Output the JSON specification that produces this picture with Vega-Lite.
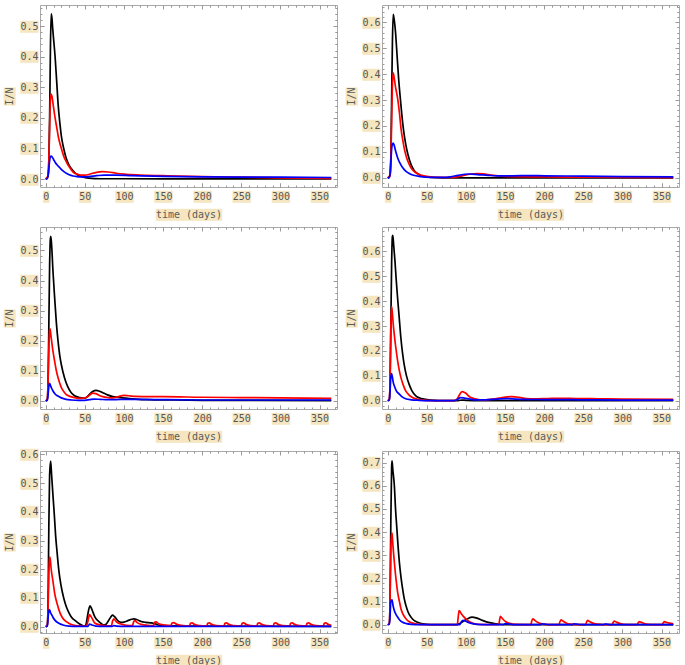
{
"$schema": "https://vega.github.io/schema/vega-lite/v6.json",
"background": "white",
"padding": {"left": 4, "top": 4, "right": 0, "bottom": 0},
"config": {
  "view": {"stroke": "#a8a8a8", "strokeWidth": 1},
  "line": {"strokeWidth": 1.7, "interpolate": "monotone"},
  "axis": {"domain": false, "grid": false, "gridColor": "#9a9a9a", "gridOpacity": 1, "gridWidth": 1, "labelFont": "DejaVu Sans Mono", "labelFontSize": 10, "titleFont": "DejaVu Sans Mono", "titleFontSize": 10, "titleFontWeight": "normal", "tickColor": "#9a9a9a", "tickWidth": 1, "labelFlush": false, "labelOverlap": false, "labelColor": "#555555", "titleColor": "#5a5a5a"}
},
"datasets": {
"p1": [
{"t":0,"v":0,"s":"k"},{"t":3,"v":0.01,"s":"k"},{"t":4,"v":0.06,"s":"k"},{"t":5,"v":0.2,"s":"k"},{"t":6,"v":0.42,"s":"k"},{"t":7,"v":0.54,"s":"k"},{"t":8,"v":0.525,"s":"k"},{"t":9,"v":0.49,"s":"k"},{"t":10,"v":0.46,"s":"k"},{"t":12,"v":0.4,"s":"k"},{"t":14,"v":0.32,"s":"k"},{"t":16,"v":0.24,"s":"k"},{"t":18,"v":0.185,"s":"k"},{"t":20,"v":0.14,"s":"k"},{"t":23,"v":0.1,"s":"k"},{"t":26,"v":0.07,"s":"k"},{"t":30,"v":0.045,"s":"k"},{"t":35,"v":0.027,"s":"k"},{"t":40,"v":0.015,"s":"k"},{"t":47,"v":0.007,"s":"k"},{"t":55,"v":0.003,"s":"k"},{"t":70,"v":0.001,"s":"k"},{"t":100,"v":0.001,"s":"k"},{"t":200,"v":0.0005,"s":"k"},{"t":365,"v":0.0005,"s":"k"},
{"t":0,"v":0,"s":"r"},{"t":3,"v":0.01,"s":"r"},{"t":4,"v":0.06,"s":"r"},{"t":5,"v":0.17,"s":"r"},{"t":6,"v":0.26,"s":"r"},{"t":7,"v":0.278,"s":"r"},{"t":8,"v":0.27,"s":"r"},{"t":10,"v":0.235,"s":"r"},{"t":12,"v":0.2,"s":"r"},{"t":14,"v":0.17,"s":"r"},{"t":16,"v":0.14,"s":"r"},{"t":18,"v":0.118,"s":"r"},{"t":20,"v":0.1,"s":"r"},{"t":23,"v":0.075,"s":"r"},{"t":26,"v":0.058,"s":"r"},{"t":30,"v":0.04,"s":"r"},{"t":35,"v":0.023,"s":"r"},{"t":40,"v":0.016,"s":"r"},{"t":45,"v":0.013,"s":"r"},{"t":50,"v":0.013,"s":"r"},{"t":55,"v":0.015,"s":"r"},{"t":60,"v":0.019,"s":"r"},{"t":65,"v":0.022,"s":"r"},{"t":72,"v":0.024,"s":"r"},{"t":80,"v":0.023,"s":"r"},{"t":90,"v":0.019,"s":"r"},{"t":100,"v":0.016,"s":"r"},{"t":120,"v":0.013,"s":"r"},{"t":150,"v":0.011,"s":"r"},{"t":200,"v":0.008,"s":"r"},{"t":250,"v":0.006,"s":"r"},{"t":300,"v":0.004,"s":"r"},{"t":365,"v":0.002,"s":"r"},
{"t":0,"v":0,"s":"b"},{"t":2,"v":0.001,"s":"b"},{"t":3,"v":0.01,"s":"b"},{"t":4,"v":0.035,"s":"b"},{"t":5,"v":0.06,"s":"b"},{"t":6,"v":0.073,"s":"b"},{"t":7,"v":0.075,"s":"b"},{"t":8,"v":0.073,"s":"b"},{"t":10,"v":0.064,"s":"b"},{"t":12,"v":0.055,"s":"b"},{"t":15,"v":0.045,"s":"b"},{"t":18,"v":0.037,"s":"b"},{"t":21,"v":0.029,"s":"b"},{"t":25,"v":0.021,"s":"b"},{"t":30,"v":0.014,"s":"b"},{"t":35,"v":0.01,"s":"b"},{"t":40,"v":0.008,"s":"b"},{"t":45,"v":0.007,"s":"b"},{"t":55,"v":0.008,"s":"b"},{"t":65,"v":0.011,"s":"b"},{"t":75,"v":0.013,"s":"b"},{"t":90,"v":0.013,"s":"b"},{"t":110,"v":0.011,"s":"b"},{"t":150,"v":0.009,"s":"b"},{"t":200,"v":0.007,"s":"b"},{"t":250,"v":0.006,"s":"b"},{"t":300,"v":0.006,"s":"b"},{"t":365,"v":0.005,"s":"b"}
],
"p2": [
{"t":0,"v":0,"s":"k"},{"t":3,"v":0.01,"s":"k"},{"t":4,"v":0.08,"s":"k"},{"t":5,"v":0.3,"s":"k"},{"t":6,"v":0.52,"s":"k"},{"t":7,"v":0.63,"s":"k"},{"t":8,"v":0.615,"s":"k"},{"t":10,"v":0.56,"s":"k"},{"t":12,"v":0.47,"s":"k"},{"t":14,"v":0.38,"s":"k"},{"t":16,"v":0.31,"s":"k"},{"t":18,"v":0.245,"s":"k"},{"t":20,"v":0.19,"s":"k"},{"t":23,"v":0.13,"s":"k"},{"t":26,"v":0.088,"s":"k"},{"t":30,"v":0.05,"s":"k"},{"t":34,"v":0.028,"s":"k"},{"t":38,"v":0.017,"s":"k"},{"t":45,"v":0.006,"s":"k"},{"t":55,"v":0.002,"s":"k"},{"t":70,"v":0.0005,"s":"k"},{"t":365,"v":0.0003,"s":"k"},
{"t":0,"v":0,"s":"r"},{"t":3,"v":0.01,"s":"r"},{"t":4,"v":0.07,"s":"r"},{"t":5,"v":0.22,"s":"r"},{"t":6,"v":0.36,"s":"r"},{"t":7,"v":0.405,"s":"r"},{"t":8,"v":0.39,"s":"r"},{"t":10,"v":0.35,"s":"r"},{"t":13,"v":0.3,"s":"r"},{"t":15,"v":0.25,"s":"r"},{"t":17,"v":0.19,"s":"r"},{"t":19,"v":0.15,"s":"r"},{"t":21,"v":0.116,"s":"r"},{"t":24,"v":0.08,"s":"r"},{"t":27.5,"v":0.052,"s":"r"},{"t":31,"v":0.033,"s":"r"},{"t":36,"v":0.02,"s":"r"},{"t":41,"v":0.012,"s":"r"},{"t":46,"v":0.008,"s":"r"},{"t":55,"v":0.004,"s":"r"},{"t":65,"v":0.002,"s":"r"},{"t":80,"v":0.002,"s":"r"},{"t":88,"v":0.004,"s":"r"},{"t":95,"v":0.008,"s":"r"},{"t":105,"v":0.014,"s":"r"},{"t":114,"v":0.017,"s":"r"},{"t":122,"v":0.016,"s":"r"},{"t":132,"v":0.011,"s":"r"},{"t":145,"v":0.007,"s":"r"},{"t":160,"v":0.005,"s":"r"},{"t":200,"v":0.004,"s":"r"},{"t":250,"v":0.003,"s":"r"},{"t":300,"v":0.002,"s":"r"},{"t":365,"v":0.001,"s":"r"},
{"t":0,"v":0,"s":"b"},{"t":2,"v":0.001,"s":"b"},{"t":3,"v":0.015,"s":"b"},{"t":4,"v":0.06,"s":"b"},{"t":5,"v":0.11,"s":"b"},{"t":6,"v":0.13,"s":"b"},{"t":7,"v":0.134,"s":"b"},{"t":8,"v":0.128,"s":"b"},{"t":10,"v":0.105,"s":"b"},{"t":13,"v":0.075,"s":"b"},{"t":16,"v":0.055,"s":"b"},{"t":19,"v":0.04,"s":"b"},{"t":23,"v":0.026,"s":"b"},{"t":27.5,"v":0.017,"s":"b"},{"t":33,"v":0.01,"s":"b"},{"t":42,"v":0.005,"s":"b"},{"t":55,"v":0.002,"s":"b"},{"t":70,"v":0.002,"s":"b"},{"t":80,"v":0.004,"s":"b"},{"t":90,"v":0.01,"s":"b"},{"t":103,"v":0.015,"s":"b"},{"t":115,"v":0.013,"s":"b"},{"t":128,"v":0.01,"s":"b"},{"t":140,"v":0.008,"s":"b"},{"t":160,"v":0.008,"s":"b"},{"t":180,"v":0.009,"s":"b"},{"t":200,"v":0.008,"s":"b"},{"t":250,"v":0.007,"s":"b"},{"t":300,"v":0.005,"s":"b"},{"t":365,"v":0.004,"s":"b"}
],
"p3": [
{"t":0,"v":0,"s":"k"},{"t":2,"v":0.005,"s":"k"},{"t":3,"v":0.06,"s":"k"},{"t":4,"v":0.25,"s":"k"},{"t":5,"v":0.45,"s":"k"},{"t":6,"v":0.54,"s":"k"},{"t":6.5,"v":0.547,"s":"k"},{"t":7.5,"v":0.52,"s":"k"},{"t":9.3,"v":0.43,"s":"k"},{"t":11.5,"v":0.34,"s":"k"},{"t":13.6,"v":0.26,"s":"k"},{"t":15.7,"v":0.2,"s":"k"},{"t":17.8,"v":0.154,"s":"k"},{"t":20,"v":0.12,"s":"k"},{"t":24,"v":0.077,"s":"k"},{"t":28,"v":0.048,"s":"k"},{"t":32.6,"v":0.027,"s":"k"},{"t":37,"v":0.017,"s":"k"},{"t":43,"v":0.011,"s":"k"},{"t":47,"v":0.009,"s":"k"},{"t":51,"v":0.01,"s":"k"},{"t":56,"v":0.022,"s":"k"},{"t":60,"v":0.031,"s":"k"},{"t":64.4,"v":0.035,"s":"k"},{"t":68,"v":0.033,"s":"k"},{"t":73,"v":0.027,"s":"k"},{"t":79,"v":0.02,"s":"k"},{"t":85.6,"v":0.014,"s":"k"},{"t":95,"v":0.011,"s":"k"},{"t":102.5,"v":0.009,"s":"k"},{"t":115,"v":0.006,"s":"k"},{"t":130,"v":0.004,"s":"k"},{"t":160,"v":0.003,"s":"k"},{"t":200,"v":0.002,"s":"k"},{"t":365,"v":0.001,"s":"k"},
{"t":0,"v":0,"s":"r"},{"t":2,"v":0.005,"s":"r"},{"t":3,"v":0.06,"s":"r"},{"t":4,"v":0.17,"s":"r"},{"t":5,"v":0.235,"s":"r"},{"t":5.5,"v":0.24,"s":"r"},{"t":7,"v":0.21,"s":"r"},{"t":9.3,"v":0.165,"s":"r"},{"t":11.5,"v":0.13,"s":"r"},{"t":13.6,"v":0.1,"s":"r"},{"t":16,"v":0.075,"s":"r"},{"t":20,"v":0.044,"s":"r"},{"t":23,"v":0.031,"s":"r"},{"t":26,"v":0.022,"s":"r"},{"t":31,"v":0.015,"s":"r"},{"t":37,"v":0.011,"s":"r"},{"t":43,"v":0.008,"s":"r"},{"t":48,"v":0.009,"s":"r"},{"t":53,"v":0.013,"s":"r"},{"t":57,"v":0.021,"s":"r"},{"t":60,"v":0.026,"s":"r"},{"t":64,"v":0.024,"s":"r"},{"t":68,"v":0.019,"s":"r"},{"t":73,"v":0.014,"s":"r"},{"t":80,"v":0.011,"s":"r"},{"t":86,"v":0.01,"s":"r"},{"t":93,"v":0.014,"s":"r"},{"t":100,"v":0.018,"s":"r"},{"t":106,"v":0.017,"s":"r"},{"t":115,"v":0.015,"s":"r"},{"t":130,"v":0.014,"s":"r"},{"t":150,"v":0.014,"s":"r"},{"t":200,"v":0.012,"s":"r"},{"t":250,"v":0.011,"s":"r"},{"t":300,"v":0.01,"s":"r"},{"t":365,"v":0.008,"s":"r"},
{"t":0,"v":0,"s":"b"},{"t":2,"v":0.002,"s":"b"},{"t":3,"v":0.02,"s":"b"},{"t":4,"v":0.048,"s":"b"},{"t":5,"v":0.058,"s":"b"},{"t":6,"v":0.052,"s":"b"},{"t":7.5,"v":0.042,"s":"b"},{"t":9.3,"v":0.033,"s":"b"},{"t":12,"v":0.023,"s":"b"},{"t":15.7,"v":0.016,"s":"b"},{"t":20,"v":0.01,"s":"b"},{"t":26,"v":0.005,"s":"b"},{"t":33,"v":0.003,"s":"b"},{"t":42,"v":0.002,"s":"b"},{"t":50,"v":0.002,"s":"b"},{"t":56,"v":0.004,"s":"b"},{"t":62,"v":0.006,"s":"b"},{"t":70,"v":0.005,"s":"b"},{"t":80,"v":0.004,"s":"b"},{"t":90,"v":0.004,"s":"b"},{"t":100,"v":0.005,"s":"b"},{"t":120,"v":0.005,"s":"b"},{"t":150,"v":0.004,"s":"b"},{"t":200,"v":0.003,"s":"b"},{"t":250,"v":0.003,"s":"b"},{"t":300,"v":0.003,"s":"b"},{"t":365,"v":0.003,"s":"b"}
],
"p4": [
{"t":0,"v":0,"s":"k"},{"t":2,"v":0.005,"s":"k"},{"t":3,"v":0.07,"s":"k"},{"t":4,"v":0.3,"s":"k"},{"t":5,"v":0.55,"s":"k"},{"t":6,"v":0.66,"s":"k"},{"t":6.5,"v":0.664,"s":"k"},{"t":7.5,"v":0.63,"s":"k"},{"t":9.3,"v":0.56,"s":"k"},{"t":11,"v":0.48,"s":"k"},{"t":12.7,"v":0.41,"s":"k"},{"t":14.8,"v":0.33,"s":"k"},{"t":16.9,"v":0.25,"s":"k"},{"t":19,"v":0.19,"s":"k"},{"t":21,"v":0.146,"s":"k"},{"t":24,"v":0.1,"s":"k"},{"t":27.4,"v":0.066,"s":"k"},{"t":31,"v":0.04,"s":"k"},{"t":35.9,"v":0.02,"s":"k"},{"t":41,"v":0.011,"s":"k"},{"t":46.4,"v":0.007,"s":"k"},{"t":55,"v":0.003,"s":"k"},{"t":65,"v":0.001,"s":"k"},{"t":90,"v":0.001,"s":"k"},{"t":95,"v":0.003,"s":"k"},{"t":100,"v":0.002,"s":"k"},{"t":120,"v":0.001,"s":"k"},{"t":365,"v":0.0005,"s":"k"},
{"t":0,"v":0,"s":"r"},{"t":2,"v":0.005,"s":"r"},{"t":3,"v":0.08,"s":"r"},{"t":4,"v":0.3,"s":"r"},{"t":5,"v":0.378,"s":"r"},{"t":6,"v":0.35,"s":"r"},{"t":7,"v":0.31,"s":"r"},{"t":8.4,"v":0.266,"s":"r"},{"t":10.5,"v":0.21,"s":"r"},{"t":12.7,"v":0.16,"s":"r"},{"t":14.8,"v":0.122,"s":"r"},{"t":16.9,"v":0.093,"s":"r"},{"t":20,"v":0.062,"s":"r"},{"t":23,"v":0.04,"s":"r"},{"t":27,"v":0.024,"s":"r"},{"t":31.6,"v":0.013,"s":"r"},{"t":38,"v":0.006,"s":"r"},{"t":45,"v":0.003,"s":"r"},{"t":55,"v":0.001,"s":"r"},{"t":85,"v":0.001,"s":"r"},{"t":88,"v":0.005,"s":"r"},{"t":91,"v":0.02,"s":"r"},{"t":95,"v":0.037,"s":"r"},{"t":99,"v":0.032,"s":"r"},{"t":105.5,"v":0.014,"s":"r"},{"t":112,"v":0.008,"s":"r"},{"t":118,"v":0.004,"s":"r"},{"t":125,"v":0.004,"s":"r"},{"t":135,"v":0.007,"s":"r"},{"t":145,"v":0.012,"s":"r"},{"t":158,"v":0.017,"s":"r"},{"t":168,"v":0.014,"s":"r"},{"t":177,"v":0.009,"s":"r"},{"t":190,"v":0.008,"s":"r"},{"t":205,"v":0.009,"s":"r"},{"t":220,"v":0.01,"s":"r"},{"t":240,"v":0.009,"s":"r"},{"t":270,"v":0.008,"s":"r"},{"t":300,"v":0.007,"s":"r"},{"t":365,"v":0.006,"s":"r"},
{"t":0,"v":0,"s":"b"},{"t":2,"v":0.002,"s":"b"},{"t":3,"v":0.04,"s":"b"},{"t":4,"v":0.095,"s":"b"},{"t":5,"v":0.109,"s":"b"},{"t":6,"v":0.095,"s":"b"},{"t":7,"v":0.075,"s":"b"},{"t":8.4,"v":0.06,"s":"b"},{"t":11,"v":0.04,"s":"b"},{"t":14.8,"v":0.027,"s":"b"},{"t":18,"v":0.017,"s":"b"},{"t":23,"v":0.008,"s":"b"},{"t":30,"v":0.004,"s":"b"},{"t":40,"v":0.002,"s":"b"},{"t":50,"v":0.001,"s":"b"},{"t":85,"v":0.001,"s":"b"},{"t":89,"v":0.005,"s":"b"},{"t":93,"v":0.013,"s":"b"},{"t":98,"v":0.011,"s":"b"},{"t":105,"v":0.007,"s":"b"},{"t":112,"v":0.004,"s":"b"},{"t":125,"v":0.004,"s":"b"},{"t":140,"v":0.007,"s":"b"},{"t":152,"v":0.009,"s":"b"},{"t":165,"v":0.007,"s":"b"},{"t":200,"v":0.005,"s":"b"},{"t":250,"v":0.004,"s":"b"},{"t":300,"v":0.003,"s":"b"},{"t":365,"v":0.003,"s":"b"}
],
"p5": [
{"t":0,"v":0,"s":"k"},{"t":2,"v":0.005,"s":"k"},{"t":3,"v":0.08,"s":"k"},{"t":4,"v":0.35,"s":"k"},{"t":5,"v":0.53,"s":"k"},{"t":6.3,"v":0.577,"s":"k"},{"t":7.5,"v":0.53,"s":"k"},{"t":9.2,"v":0.46,"s":"k"},{"t":11,"v":0.39,"s":"k"},{"t":12.6,"v":0.32,"s":"k"},{"t":14.5,"v":0.26,"s":"k"},{"t":16.8,"v":0.195,"s":"k"},{"t":19.5,"v":0.145,"s":"k"},{"t":23,"v":0.1,"s":"k"},{"t":26,"v":0.072,"s":"k"},{"t":29.4,"v":0.05,"s":"k"},{"t":33,"v":0.033,"s":"k"},{"t":37.8,"v":0.021,"s":"k"},{"t":43,"v":0.01,"s":"k"},{"t":48.3,"v":0.003,"s":"k"},{"t":51,"v":0.004,"s":"k"},{"t":53,"v":0.03,"s":"k"},{"t":55,"v":0.06,"s":"k"},{"t":56.7,"v":0.073,"s":"k"},{"t":59,"v":0.06,"s":"k"},{"t":63,"v":0.033,"s":"k"},{"t":67,"v":0.02,"s":"k"},{"t":71,"v":0.011,"s":"k"},{"t":73.5,"v":0.006,"s":"k"},{"t":77,"v":0.008,"s":"k"},{"t":80,"v":0.02,"s":"k"},{"t":83,"v":0.033,"s":"k"},{"t":85.3,"v":0.04,"s":"k"},{"t":88,"v":0.035,"s":"k"},{"t":92.4,"v":0.02,"s":"k"},{"t":96.6,"v":0.015,"s":"k"},{"t":100,"v":0.016,"s":"k"},{"t":105,"v":0.021,"s":"k"},{"t":110,"v":0.026,"s":"k"},{"t":112.6,"v":0.027,"s":"k"},{"t":116,"v":0.025,"s":"k"},{"t":122,"v":0.018,"s":"k"},{"t":128,"v":0.015,"s":"k"},{"t":135,"v":0.013,"s":"k"},{"t":140,"v":0.01,"s":"k"},{"t":145,"v":0.005,"s":"k"},{"t":150,"v":0.004,"s":"k"},{"t":200,"v":0.002,"s":"k"},{"t":365,"v":0.001,"s":"k"},
{"t":0,"v":0,"s":"r"},{"t":2,"v":0.005,"s":"r"},{"t":3,"v":0.06,"s":"r"},{"t":4,"v":0.18,"s":"r"},{"t":5,"v":0.24,"s":"r"},{"t":5.5,"v":0.242,"s":"r"},{"t":7,"v":0.2,"s":"r"},{"t":9.2,"v":0.16,"s":"r"},{"t":11.5,"v":0.115,"s":"r"},{"t":14.7,"v":0.079,"s":"r"},{"t":18,"v":0.05,"s":"r"},{"t":21,"v":0.033,"s":"r"},{"t":25,"v":0.02,"s":"r"},{"t":29.4,"v":0.012,"s":"r"},{"t":35,"v":0.006,"s":"r"},{"t":42,"v":0.003,"s":"r"},{"t":52,"v":0.002,"s":"r"},{"t":54,"v":0.02,"s":"r"},{"t":56,"v":0.042,"s":"r"},{"t":58,"v":0.035,"s":"r"},{"t":61,"v":0.02,"s":"r"},{"t":63,"v":0.012,"s":"r"},{"t":68,"v":0.007,"s":"r"},{"t":75,"v":0.004,"s":"r"},{"t":84,"v":0.003,"s":"r"},{"t":85.5,"v":0.02,"s":"r"},{"t":87,"v":0.027,"s":"r"},{"t":90,"v":0.018,"s":"r"},{"t":95,"v":0.01,"s":"r"},{"t":103,"v":0.005,"s":"r"},{"t":111,"v":0.004,"s":"r"},{"t":112.5,"v":0.018,"s":"r"},{"t":114,"v":0.021,"s":"r"},{"t":117,"v":0.014,"s":"r"},{"t":122,"v":0.008,"s":"r"},{"t":130,"v":0.005,"s":"r"},{"t":138,"v":0.004,"s":"r"},{"t":139,"v":0.015,"s":"r"},{"t":141,"v":0.017,"s":"r"},{"t":144,"v":0.011,"s":"r"},{"t":150,"v":0.006,"s":"r"},{"t":160,"v":0.004,"s":"r"},{"t":161.5,"v":0.013,"s":"r"},{"t":163.5,"v":0.014,"s":"r"},{"t":167,"v":0.009,"s":"r"},{"t":173,"v":0.005,"s":"r"},{"t":184,"v":0.003,"s":"r"},{"t":185,"v":0.012,"s":"r"},{"t":187,"v":0.013,"s":"r"},{"t":190,"v":0.008,"s":"r"},{"t":196,"v":0.004,"s":"r"},{"t":206,"v":0.003,"s":"r"},{"t":207,"v":0.012,"s":"r"},{"t":209,"v":0.013,"s":"r"},{"t":212,"v":0.008,"s":"r"},{"t":218,"v":0.004,"s":"r"},{"t":228,"v":0.003,"s":"r"},{"t":229,"v":0.012,"s":"r"},{"t":231,"v":0.013,"s":"r"},{"t":234,"v":0.008,"s":"r"},{"t":240,"v":0.004,"s":"r"},{"t":250,"v":0.003,"s":"r"},{"t":251,"v":0.012,"s":"r"},{"t":253,"v":0.013,"s":"r"},{"t":256,"v":0.008,"s":"r"},{"t":262,"v":0.004,"s":"r"},{"t":270,"v":0.003,"s":"r"},{"t":271,"v":0.012,"s":"r"},{"t":273,"v":0.013,"s":"r"},{"t":276,"v":0.008,"s":"r"},{"t":282,"v":0.004,"s":"r"},{"t":291,"v":0.003,"s":"r"},{"t":292,"v":0.012,"s":"r"},{"t":294,"v":0.013,"s":"r"},{"t":297,"v":0.008,"s":"r"},{"t":303,"v":0.004,"s":"r"},{"t":312,"v":0.003,"s":"r"},{"t":313,"v":0.012,"s":"r"},{"t":315,"v":0.013,"s":"r"},{"t":318,"v":0.008,"s":"r"},{"t":324,"v":0.004,"s":"r"},{"t":333,"v":0.003,"s":"r"},{"t":334,"v":0.012,"s":"r"},{"t":336,"v":0.013,"s":"r"},{"t":339,"v":0.008,"s":"r"},{"t":345,"v":0.004,"s":"r"},{"t":355,"v":0.003,"s":"r"},{"t":356,"v":0.012,"s":"r"},{"t":358,"v":0.013,"s":"r"},{"t":361,"v":0.008,"s":"r"},{"t":365,"v":0.005,"s":"r"},
{"t":0,"v":0,"s":"b"},{"t":2,"v":0.002,"s":"b"},{"t":3,"v":0.03,"s":"b"},{"t":4,"v":0.055,"s":"b"},{"t":5,"v":0.059,"s":"b"},{"t":6,"v":0.05,"s":"b"},{"t":7.5,"v":0.042,"s":"b"},{"t":9.2,"v":0.033,"s":"b"},{"t":12,"v":0.022,"s":"b"},{"t":16.8,"v":0.012,"s":"b"},{"t":22,"v":0.006,"s":"b"},{"t":30,"v":0.002,"s":"b"},{"t":40,"v":0.001,"s":"b"},{"t":54,"v":0.001,"s":"b"},{"t":56,"v":0.009,"s":"b"},{"t":59,"v":0.006,"s":"b"},{"t":64,"v":0.002,"s":"b"},{"t":75,"v":0.001,"s":"b"},{"t":85,"v":0.001,"s":"b"},{"t":87,"v":0.004,"s":"b"},{"t":91,"v":0.002,"s":"b"},{"t":100,"v":0.001,"s":"b"},{"t":365,"v":0.001,"s":"b"}
],
"p6": [
{"t":0,"v":0,"s":"k"},{"t":2,"v":0.005,"s":"k"},{"t":3,"v":0.1,"s":"k"},{"t":4,"v":0.45,"s":"k"},{"t":5,"v":0.68,"s":"k"},{"t":5.5,"v":0.708,"s":"k"},{"t":6.5,"v":0.67,"s":"k"},{"t":8.5,"v":0.6,"s":"k"},{"t":10,"v":0.5,"s":"k"},{"t":11.5,"v":0.425,"s":"k"},{"t":13,"v":0.35,"s":"k"},{"t":14.9,"v":0.27,"s":"k"},{"t":17,"v":0.205,"s":"k"},{"t":19.1,"v":0.154,"s":"k"},{"t":21,"v":0.115,"s":"k"},{"t":23.3,"v":0.083,"s":"k"},{"t":26,"v":0.055,"s":"k"},{"t":29.7,"v":0.033,"s":"k"},{"t":34,"v":0.018,"s":"k"},{"t":38.2,"v":0.011,"s":"k"},{"t":45,"v":0.004,"s":"k"},{"t":55,"v":0.001,"s":"k"},{"t":88,"v":0.001,"s":"k"},{"t":92,"v":0.005,"s":"k"},{"t":97,"v":0.016,"s":"k"},{"t":102,"v":0.026,"s":"k"},{"t":108,"v":0.033,"s":"k"},{"t":113,"v":0.03,"s":"k"},{"t":121,"v":0.019,"s":"k"},{"t":130,"v":0.009,"s":"k"},{"t":138,"v":0.004,"s":"k"},{"t":150,"v":0.001,"s":"k"},{"t":365,"v":0.0005,"s":"k"},
{"t":0,"v":0,"s":"r"},{"t":2,"v":0.005,"s":"r"},{"t":3,"v":0.1,"s":"r"},{"t":4,"v":0.33,"s":"r"},{"t":5,"v":0.39,"s":"r"},{"t":5.5,"v":0.397,"s":"r"},{"t":6.5,"v":0.35,"s":"r"},{"t":8.5,"v":0.27,"s":"r"},{"t":10.5,"v":0.2,"s":"r"},{"t":12.7,"v":0.14,"s":"r"},{"t":15,"v":0.1,"s":"r"},{"t":17,"v":0.068,"s":"r"},{"t":20,"v":0.043,"s":"r"},{"t":23.3,"v":0.026,"s":"r"},{"t":27,"v":0.014,"s":"r"},{"t":31.8,"v":0.007,"s":"r"},{"t":40,"v":0.002,"s":"r"},{"t":50,"v":0.001,"s":"r"},{"t":89,"v":0.001,"s":"r"},{"t":90,"v":0.03,"s":"r"},{"t":91.3,"v":0.061,"s":"r"},{"t":94,"v":0.048,"s":"r"},{"t":97,"v":0.035,"s":"r"},{"t":99.7,"v":0.026,"s":"r"},{"t":104,"v":0.014,"s":"r"},{"t":108,"v":0.007,"s":"r"},{"t":115,"v":0.002,"s":"r"},{"t":142,"v":0.001,"s":"r"},{"t":143,"v":0.02,"s":"r"},{"t":144,"v":0.036,"s":"r"},{"t":147,"v":0.025,"s":"r"},{"t":151,"v":0.013,"s":"r"},{"t":156,"v":0.006,"s":"r"},{"t":163,"v":0.002,"s":"r"},{"t":183,"v":0.001,"s":"r"},{"t":184,"v":0.015,"s":"r"},{"t":185.5,"v":0.026,"s":"r"},{"t":188,"v":0.019,"s":"r"},{"t":192,"v":0.01,"s":"r"},{"t":197,"v":0.004,"s":"r"},{"t":205,"v":0.001,"s":"r"},{"t":219,"v":0.001,"s":"r"},{"t":220,"v":0.012,"s":"r"},{"t":221.5,"v":0.021,"s":"r"},{"t":224,"v":0.016,"s":"r"},{"t":228,"v":0.008,"s":"r"},{"t":233,"v":0.003,"s":"r"},{"t":240,"v":0.001,"s":"r"},{"t":253,"v":0.001,"s":"r"},{"t":254,"v":0.01,"s":"r"},{"t":255.5,"v":0.019,"s":"r"},{"t":258,"v":0.014,"s":"r"},{"t":262,"v":0.007,"s":"r"},{"t":267,"v":0.003,"s":"r"},{"t":275,"v":0.001,"s":"r"},{"t":287,"v":0.001,"s":"r"},{"t":288,"v":0.009,"s":"r"},{"t":289.5,"v":0.016,"s":"r"},{"t":292,"v":0.012,"s":"r"},{"t":296,"v":0.006,"s":"r"},{"t":301,"v":0.002,"s":"r"},{"t":309,"v":0.001,"s":"r"},{"t":319,"v":0.001,"s":"r"},{"t":320,"v":0.008,"s":"r"},{"t":321.5,"v":0.014,"s":"r"},{"t":324,"v":0.011,"s":"r"},{"t":328,"v":0.005,"s":"r"},{"t":333,"v":0.002,"s":"r"},{"t":340,"v":0.001,"s":"r"},{"t":351,"v":0.001,"s":"r"},{"t":352,"v":0.008,"s":"r"},{"t":353.5,"v":0.014,"s":"r"},{"t":356,"v":0.011,"s":"r"},{"t":360,"v":0.007,"s":"r"},{"t":365,"v":0.004,"s":"r"},
{"t":0,"v":0,"s":"b"},{"t":2,"v":0.002,"s":"b"},{"t":3,"v":0.04,"s":"b"},{"t":4,"v":0.1,"s":"b"},{"t":5.5,"v":0.108,"s":"b"},{"t":7,"v":0.08,"s":"b"},{"t":8.5,"v":0.061,"s":"b"},{"t":10.5,"v":0.045,"s":"b"},{"t":12.7,"v":0.033,"s":"b"},{"t":15,"v":0.022,"s":"b"},{"t":19,"v":0.011,"s":"b"},{"t":24,"v":0.005,"s":"b"},{"t":30,"v":0.002,"s":"b"},{"t":40,"v":0.0005,"s":"b"},{"t":92,"v":0.0005,"s":"b"},{"t":94,"v":0.012,"s":"b"},{"t":96,"v":0.019,"s":"b"},{"t":99,"v":0.016,"s":"b"},{"t":104,"v":0.009,"s":"b"},{"t":110,"v":0.004,"s":"b"},{"t":120,"v":0.001,"s":"b"},{"t":148,"v":0.001,"s":"b"},{"t":150,"v":0.005,"s":"b"},{"t":153,"v":0.004,"s":"b"},{"t":160,"v":0.001,"s":"b"},{"t":195,"v":0.001,"s":"b"},{"t":197,"v":0.004,"s":"b"},{"t":200,"v":0.003,"s":"b"},{"t":206,"v":0.001,"s":"b"},{"t":236,"v":0.001,"s":"b"},{"t":238,"v":0.004,"s":"b"},{"t":241,"v":0.003,"s":"b"},{"t":247,"v":0.001,"s":"b"},{"t":276,"v":0.001,"s":"b"},{"t":278,"v":0.003,"s":"b"},{"t":281,"v":0.002,"s":"b"},{"t":287,"v":0.001,"s":"b"},{"t":365,"v":0.001,"s":"b"}
]
},
"columns": 2,
"spacing": {"row": 6, "column": 8},
"concat": [
{
 "width": 297, "height": 182, "data": {"name": "p1"},
 "resolve": {"axis": {"x": "independent", "y": "independent"}},
 "layer": [
  {"transform": [{"filter": "datum.s == 'k'"}], "mark": {"type": "line", "color": "#000000"},
   "encoding": {
    "x": {"field": "t", "type": "quantitative", "scale": {"domain": [-7.3, 372.3], "nice": false, "zero": false},
     "axis": {"orient": "bottom", "values": [0,50,100,150,200,250,300,350], "labelExpr": "replace(datum.label, regexp('.', 'g'), '█')", "labelColor": "#f5e6c0", "tickSize": -4, "labelPadding": 8, "title": "███████████", "titleColor": "#f5e6c0", "titlePadding": 8}},
    "y": {"field": "v", "type": "quantitative", "scale": {"domain": [-0.026, 0.569], "nice": false, "zero": false},
     "axis": {"orient": "left", "format": ".1f", "values": [0,0.1,0.2,0.3,0.4,0.5], "labelExpr": "replace(datum.label, regexp('.', 'g'), '█')", "labelColor": "#f5e6c0", "tickSize": -4, "labelPadding": 6, "title": "███", "titleColor": "#f5e6c0", "titlePadding": 5}}}},
  {"transform": [{"filter": "datum.s == 'r'"}], "mark": {"type": "line", "color": "#ff0000"},
   "encoding": {
    "x": {"field": "t", "type": "quantitative", "scale": {"domain": [-7.3, 372.3], "nice": false, "zero": false},
     "axis": {"orient": "bottom", "values": [0,50,100,150,200,250,300,350], "tickSize": -4, "labelPadding": 8, "title": "time (days)", "titlePadding": 8}},
    "y": {"field": "v", "type": "quantitative", "scale": {"domain": [-0.026, 0.569], "nice": false, "zero": false},
     "axis": {"orient": "left", "format": ".1f", "values": [0,0.1,0.2,0.3,0.4,0.5], "tickSize": -4, "labelPadding": 6, "title": "I/N", "titlePadding": 5}}}},
  {"transform": [{"filter": "datum.s == 'b'"}], "mark": {"type": "line", "color": "#0000ff"},
   "encoding": {
    "x": {"field": "t", "type": "quantitative", "scale": {"domain": [-7.3, 372.3], "nice": false, "zero": false},
     "axis": {"orient": "top", "values": [0,10,20,30,40,50,60,70,80,90,100,110,120,130,140,150,160,170,180,190,200,210,220,230,240,250,260,270,280,290,300,310,320,330,340,350,360,370], "tickSize": {"condition": {"test": "datum.value % 50 == 0", "value": -4}, "value": -2}, "labels": false, "title": null, "grid": true, "gridDash": [2, 178, 2, 400]}},
    "y": {"field": "v", "type": "quantitative", "scale": {"domain": [-0.026, 0.569], "nice": false, "zero": false},
     "axis": {"orient": "right", "values": [-0.02,0,0.02,0.04,0.06,0.08,0.1,0.12,0.14,0.16,0.18,0.2,0.22,0.24,0.26,0.28,0.3,0.32,0.34,0.36,0.38,0.4,0.42,0.44,0.46,0.48,0.5,0.52,0.54,0.56], "tickSize": {"condition": {"test": "abs(datum.value*10 - round(datum.value*10)) < 0.001", "value": -4}, "value": -2}, "labels": false, "title": null, "grid": true, "gridDash": [2, 293, 2, 600]}}}}
 ]
},
{
 "width": 297, "height": 182, "data": {"name": "p2"},
 "resolve": {"axis": {"x": "independent", "y": "independent"}},
 "layer": [
  {"transform": [{"filter": "datum.s == 'k'"}], "mark": {"type": "line", "color": "#000000"},
   "encoding": {
    "x": {"field": "t", "type": "quantitative", "scale": {"domain": [-7.3, 372.3], "nice": false, "zero": false},
     "axis": {"orient": "bottom", "values": [0,50,100,150,200,250,300,350], "labelExpr": "replace(datum.label, regexp('.', 'g'), '█')", "labelColor": "#f5e6c0", "tickSize": -4, "labelPadding": 8, "title": "███████████", "titleColor": "#f5e6c0", "titlePadding": 8}},
    "y": {"field": "v", "type": "quantitative", "scale": {"domain": [-0.035, 0.666], "nice": false, "zero": false},
     "axis": {"orient": "left", "format": ".1f", "values": [0,0.1,0.2,0.3,0.4,0.5,0.6], "labelExpr": "replace(datum.label, regexp('.', 'g'), '█')", "labelColor": "#f5e6c0", "tickSize": -4, "labelPadding": 6, "title": "███", "titleColor": "#f5e6c0", "titlePadding": 5}}}},
  {"transform": [{"filter": "datum.s == 'r'"}], "mark": {"type": "line", "color": "#ff0000"},
   "encoding": {
    "x": {"field": "t", "type": "quantitative", "scale": {"domain": [-7.3, 372.3], "nice": false, "zero": false},
     "axis": {"orient": "bottom", "values": [0,50,100,150,200,250,300,350], "tickSize": -4, "labelPadding": 8, "title": "time (days)", "titlePadding": 8}},
    "y": {"field": "v", "type": "quantitative", "scale": {"domain": [-0.035, 0.666], "nice": false, "zero": false},
     "axis": {"orient": "left", "format": ".1f", "values": [0,0.1,0.2,0.3,0.4,0.5,0.6], "tickSize": -4, "labelPadding": 6, "title": "I/N", "titlePadding": 5}}}},
  {"transform": [{"filter": "datum.s == 'b'"}], "mark": {"type": "line", "color": "#0000ff"},
   "encoding": {
    "x": {"field": "t", "type": "quantitative", "scale": {"domain": [-7.3, 372.3], "nice": false, "zero": false},
     "axis": {"orient": "top", "values": [0,10,20,30,40,50,60,70,80,90,100,110,120,130,140,150,160,170,180,190,200,210,220,230,240,250,260,270,280,290,300,310,320,330,340,350,360,370], "tickSize": {"condition": {"test": "datum.value % 50 == 0", "value": -4}, "value": -2}, "labels": false, "title": null, "grid": true, "gridDash": [2, 178, 2, 400]}},
    "y": {"field": "v", "type": "quantitative", "scale": {"domain": [-0.035, 0.666], "nice": false, "zero": false},
     "axis": {"orient": "right", "values": [-0.02,0,0.02,0.04,0.06,0.08,0.1,0.12,0.14,0.16,0.18,0.2,0.22,0.24,0.26,0.28,0.3,0.32,0.34,0.36,0.38,0.4,0.42,0.44,0.46,0.48,0.5,0.52,0.54,0.56,0.58,0.6,0.62,0.64,0.66], "tickSize": {"condition": {"test": "abs(datum.value*10 - round(datum.value*10)) < 0.001", "value": -4}, "value": -2}, "labels": false, "title": null, "grid": true, "gridDash": [2, 293, 2, 600]}}}}
 ]
},
{
 "width": 297, "height": 182, "data": {"name": "p3"},
 "resolve": {"axis": {"x": "independent", "y": "independent"}},
 "layer": [
  {"transform": [{"filter": "datum.s == 'k'"}], "mark": {"type": "line", "color": "#000000"},
   "encoding": {
    "x": {"field": "t", "type": "quantitative", "scale": {"domain": [-7.3, 372.3], "nice": false, "zero": false},
     "axis": {"orient": "bottom", "values": [0,50,100,150,200,250,300,350], "labelExpr": "replace(datum.label, regexp('.', 'g'), '█')", "labelColor": "#f5e6c0", "tickSize": -4, "labelPadding": 8, "title": "███████████", "titleColor": "#f5e6c0", "titlePadding": 8}},
    "y": {"field": "v", "type": "quantitative", "scale": {"domain": [-0.027, 0.578], "nice": false, "zero": false},
     "axis": {"orient": "left", "format": ".1f", "values": [0,0.1,0.2,0.3,0.4,0.5], "labelExpr": "replace(datum.label, regexp('.', 'g'), '█')", "labelColor": "#f5e6c0", "tickSize": -4, "labelPadding": 6, "title": "███", "titleColor": "#f5e6c0", "titlePadding": 5}}}},
  {"transform": [{"filter": "datum.s == 'r'"}], "mark": {"type": "line", "color": "#ff0000"},
   "encoding": {
    "x": {"field": "t", "type": "quantitative", "scale": {"domain": [-7.3, 372.3], "nice": false, "zero": false},
     "axis": {"orient": "bottom", "values": [0,50,100,150,200,250,300,350], "tickSize": -4, "labelPadding": 8, "title": "time (days)", "titlePadding": 8}},
    "y": {"field": "v", "type": "quantitative", "scale": {"domain": [-0.027, 0.578], "nice": false, "zero": false},
     "axis": {"orient": "left", "format": ".1f", "values": [0,0.1,0.2,0.3,0.4,0.5], "tickSize": -4, "labelPadding": 6, "title": "I/N", "titlePadding": 5}}}},
  {"transform": [{"filter": "datum.s == 'b'"}], "mark": {"type": "line", "color": "#0000ff"},
   "encoding": {
    "x": {"field": "t", "type": "quantitative", "scale": {"domain": [-7.3, 372.3], "nice": false, "zero": false},
     "axis": {"orient": "top", "values": [0,10,20,30,40,50,60,70,80,90,100,110,120,130,140,150,160,170,180,190,200,210,220,230,240,250,260,270,280,290,300,310,320,330,340,350,360,370], "tickSize": {"condition": {"test": "datum.value % 50 == 0", "value": -4}, "value": -2}, "labels": false, "title": null, "grid": true, "gridDash": [2, 178, 2, 400]}},
    "y": {"field": "v", "type": "quantitative", "scale": {"domain": [-0.027, 0.578], "nice": false, "zero": false},
     "axis": {"orient": "right", "values": [-0.02,0,0.02,0.04,0.06,0.08,0.1,0.12,0.14,0.16,0.18,0.2,0.22,0.24,0.26,0.28,0.3,0.32,0.34,0.36,0.38,0.4,0.42,0.44,0.46,0.48,0.5,0.52,0.54,0.56], "tickSize": {"condition": {"test": "abs(datum.value*10 - round(datum.value*10)) < 0.001", "value": -4}, "value": -2}, "labels": false, "title": null, "grid": true, "gridDash": [2, 293, 2, 600]}}}}
 ]
},
{
 "width": 297, "height": 182, "data": {"name": "p4"},
 "resolve": {"axis": {"x": "independent", "y": "independent"}},
 "layer": [
  {"transform": [{"filter": "datum.s == 'k'"}], "mark": {"type": "line", "color": "#000000"},
   "encoding": {
    "x": {"field": "t", "type": "quantitative", "scale": {"domain": [-7.3, 372.3], "nice": false, "zero": false},
     "axis": {"orient": "bottom", "values": [0,50,100,150,200,250,300,350], "labelExpr": "replace(datum.label, regexp('.', 'g'), '█')", "labelColor": "#f5e6c0", "tickSize": -4, "labelPadding": 8, "title": "███████████", "titleColor": "#f5e6c0", "titlePadding": 8}},
    "y": {"field": "v", "type": "quantitative", "scale": {"domain": [-0.033, 0.698], "nice": false, "zero": false},
     "axis": {"orient": "left", "format": ".1f", "values": [0,0.1,0.2,0.3,0.4,0.5,0.6], "labelExpr": "replace(datum.label, regexp('.', 'g'), '█')", "labelColor": "#f5e6c0", "tickSize": -4, "labelPadding": 6, "title": "███", "titleColor": "#f5e6c0", "titlePadding": 5}}}},
  {"transform": [{"filter": "datum.s == 'r'"}], "mark": {"type": "line", "color": "#ff0000"},
   "encoding": {
    "x": {"field": "t", "type": "quantitative", "scale": {"domain": [-7.3, 372.3], "nice": false, "zero": false},
     "axis": {"orient": "bottom", "values": [0,50,100,150,200,250,300,350], "tickSize": -4, "labelPadding": 8, "title": "time (days)", "titlePadding": 8}},
    "y": {"field": "v", "type": "quantitative", "scale": {"domain": [-0.033, 0.698], "nice": false, "zero": false},
     "axis": {"orient": "left", "format": ".1f", "values": [0,0.1,0.2,0.3,0.4,0.5,0.6], "tickSize": -4, "labelPadding": 6, "title": "I/N", "titlePadding": 5}}}},
  {"transform": [{"filter": "datum.s == 'b'"}], "mark": {"type": "line", "color": "#0000ff"},
   "encoding": {
    "x": {"field": "t", "type": "quantitative", "scale": {"domain": [-7.3, 372.3], "nice": false, "zero": false},
     "axis": {"orient": "top", "values": [0,10,20,30,40,50,60,70,80,90,100,110,120,130,140,150,160,170,180,190,200,210,220,230,240,250,260,270,280,290,300,310,320,330,340,350,360,370], "tickSize": {"condition": {"test": "datum.value % 50 == 0", "value": -4}, "value": -2}, "labels": false, "title": null, "grid": true, "gridDash": [2, 178, 2, 400]}},
    "y": {"field": "v", "type": "quantitative", "scale": {"domain": [-0.033, 0.698], "nice": false, "zero": false},
     "axis": {"orient": "right", "values": [-0.02,0,0.02,0.04,0.06,0.08,0.1,0.12,0.14,0.16,0.18,0.2,0.22,0.24,0.26,0.28,0.3,0.32,0.34,0.36,0.38,0.4,0.42,0.44,0.46,0.48,0.5,0.52,0.54,0.56,0.58,0.6,0.62,0.64,0.66,0.68], "tickSize": {"condition": {"test": "abs(datum.value*10 - round(datum.value*10)) < 0.001", "value": -4}, "value": -2}, "labels": false, "title": null, "grid": true, "gridDash": [2, 293, 2, 600]}}}}
 ]
},
{
 "width": 297, "height": 182, "data": {"name": "p5"},
 "resolve": {"axis": {"x": "independent", "y": "independent"}},
 "layer": [
  {"transform": [{"filter": "datum.s == 'k'"}], "mark": {"type": "line", "color": "#000000"},
   "encoding": {
    "x": {"field": "t", "type": "quantitative", "scale": {"domain": [-7.3, 372.3], "nice": false, "zero": false},
     "axis": {"orient": "bottom", "values": [0,50,100,150,200,250,300,350], "labelExpr": "replace(datum.label, regexp('.', 'g'), '█')", "labelColor": "#f5e6c0", "tickSize": -4, "labelPadding": 8, "title": "███████████", "titleColor": "#f5e6c0", "titlePadding": 8}},
    "y": {"field": "v", "type": "quantitative", "scale": {"domain": [-0.022, 0.612], "nice": false, "zero": false},
     "axis": {"orient": "left", "format": ".1f", "values": [0,0.1,0.2,0.3,0.4,0.5,0.6], "labelExpr": "replace(datum.label, regexp('.', 'g'), '█')", "labelColor": "#f5e6c0", "tickSize": -4, "labelPadding": 6, "title": "███", "titleColor": "#f5e6c0", "titlePadding": 5}}}},
  {"transform": [{"filter": "datum.s == 'r'"}], "mark": {"type": "line", "color": "#ff0000"},
   "encoding": {
    "x": {"field": "t", "type": "quantitative", "scale": {"domain": [-7.3, 372.3], "nice": false, "zero": false},
     "axis": {"orient": "bottom", "values": [0,50,100,150,200,250,300,350], "tickSize": -4, "labelPadding": 8, "title": "time (days)", "titlePadding": 8}},
    "y": {"field": "v", "type": "quantitative", "scale": {"domain": [-0.022, 0.612], "nice": false, "zero": false},
     "axis": {"orient": "left", "format": ".1f", "values": [0,0.1,0.2,0.3,0.4,0.5,0.6], "tickSize": -4, "labelPadding": 6, "title": "I/N", "titlePadding": 5}}}},
  {"transform": [{"filter": "datum.s == 'b'"}], "mark": {"type": "line", "color": "#0000ff"},
   "encoding": {
    "x": {"field": "t", "type": "quantitative", "scale": {"domain": [-7.3, 372.3], "nice": false, "zero": false},
     "axis": {"orient": "top", "values": [0,10,20,30,40,50,60,70,80,90,100,110,120,130,140,150,160,170,180,190,200,210,220,230,240,250,260,270,280,290,300,310,320,330,340,350,360,370], "tickSize": {"condition": {"test": "datum.value % 50 == 0", "value": -4}, "value": -2}, "labels": false, "title": null, "grid": true, "gridDash": [2, 178, 2, 400]}},
    "y": {"field": "v", "type": "quantitative", "scale": {"domain": [-0.022, 0.612], "nice": false, "zero": false},
     "axis": {"orient": "right", "values": [-0.02,0,0.02,0.04,0.06,0.08,0.1,0.12,0.14,0.16,0.18,0.2,0.22,0.24,0.26,0.28,0.3,0.32,0.34,0.36,0.38,0.4,0.42,0.44,0.46,0.48,0.5,0.52,0.54,0.56,0.58,0.6], "tickSize": {"condition": {"test": "abs(datum.value*10 - round(datum.value*10)) < 0.001", "value": -4}, "value": -2}, "labels": false, "title": null, "grid": true, "gridDash": [2, 293, 2, 600]}}}}
 ]
},
{
 "width": 297, "height": 182, "data": {"name": "p6"},
 "resolve": {"axis": {"x": "independent", "y": "independent"}},
 "layer": [
  {"transform": [{"filter": "datum.s == 'k'"}], "mark": {"type": "line", "color": "#000000"},
   "encoding": {
    "x": {"field": "t", "type": "quantitative", "scale": {"domain": [-7.3, 372.3], "nice": false, "zero": false},
     "axis": {"orient": "bottom", "values": [0,50,100,150,200,250,300,350], "labelExpr": "replace(datum.label, regexp('.', 'g'), '█')", "labelColor": "#f5e6c0", "tickSize": -4, "labelPadding": 8, "title": "███████████", "titleColor": "#f5e6c0", "titlePadding": 8}},
    "y": {"field": "v", "type": "quantitative", "scale": {"domain": [-0.0355, 0.75], "nice": false, "zero": false},
     "axis": {"orient": "left", "format": ".1f", "values": [0,0.1,0.2,0.3,0.4,0.5,0.6,0.7], "labelExpr": "replace(datum.label, regexp('.', 'g'), '█')", "labelColor": "#f5e6c0", "tickSize": -4, "labelPadding": 6, "title": "███", "titleColor": "#f5e6c0", "titlePadding": 5}}}},
  {"transform": [{"filter": "datum.s == 'r'"}], "mark": {"type": "line", "color": "#ff0000"},
   "encoding": {
    "x": {"field": "t", "type": "quantitative", "scale": {"domain": [-7.3, 372.3], "nice": false, "zero": false},
     "axis": {"orient": "bottom", "values": [0,50,100,150,200,250,300,350], "tickSize": -4, "labelPadding": 8, "title": "time (days)", "titlePadding": 8}},
    "y": {"field": "v", "type": "quantitative", "scale": {"domain": [-0.0355, 0.75], "nice": false, "zero": false},
     "axis": {"orient": "left", "format": ".1f", "values": [0,0.1,0.2,0.3,0.4,0.5,0.6,0.7], "tickSize": -4, "labelPadding": 6, "title": "I/N", "titlePadding": 5}}}},
  {"transform": [{"filter": "datum.s == 'b'"}], "mark": {"type": "line", "color": "#0000ff"},
   "encoding": {
    "x": {"field": "t", "type": "quantitative", "scale": {"domain": [-7.3, 372.3], "nice": false, "zero": false},
     "axis": {"orient": "top", "values": [0,10,20,30,40,50,60,70,80,90,100,110,120,130,140,150,160,170,180,190,200,210,220,230,240,250,260,270,280,290,300,310,320,330,340,350,360,370], "tickSize": {"condition": {"test": "datum.value % 50 == 0", "value": -4}, "value": -2}, "labels": false, "title": null, "grid": true, "gridDash": [2, 178, 2, 400]}},
    "y": {"field": "v", "type": "quantitative", "scale": {"domain": [-0.0355, 0.75], "nice": false, "zero": false},
     "axis": {"orient": "right", "values": [-0.02,0,0.02,0.04,0.06,0.08,0.1,0.12,0.14,0.16,0.18,0.2,0.22,0.24,0.26,0.28,0.3,0.32,0.34,0.36,0.38,0.4,0.42,0.44,0.46,0.48,0.5,0.52,0.54,0.56,0.58,0.6,0.62,0.64,0.66,0.68,0.7,0.72,0.74], "tickSize": {"condition": {"test": "abs(datum.value*10 - round(datum.value*10)) < 0.001", "value": -4}, "value": -2}, "labels": false, "title": null, "grid": true, "gridDash": [2, 293, 2, 600]}}}}
 ]
}
]
}
